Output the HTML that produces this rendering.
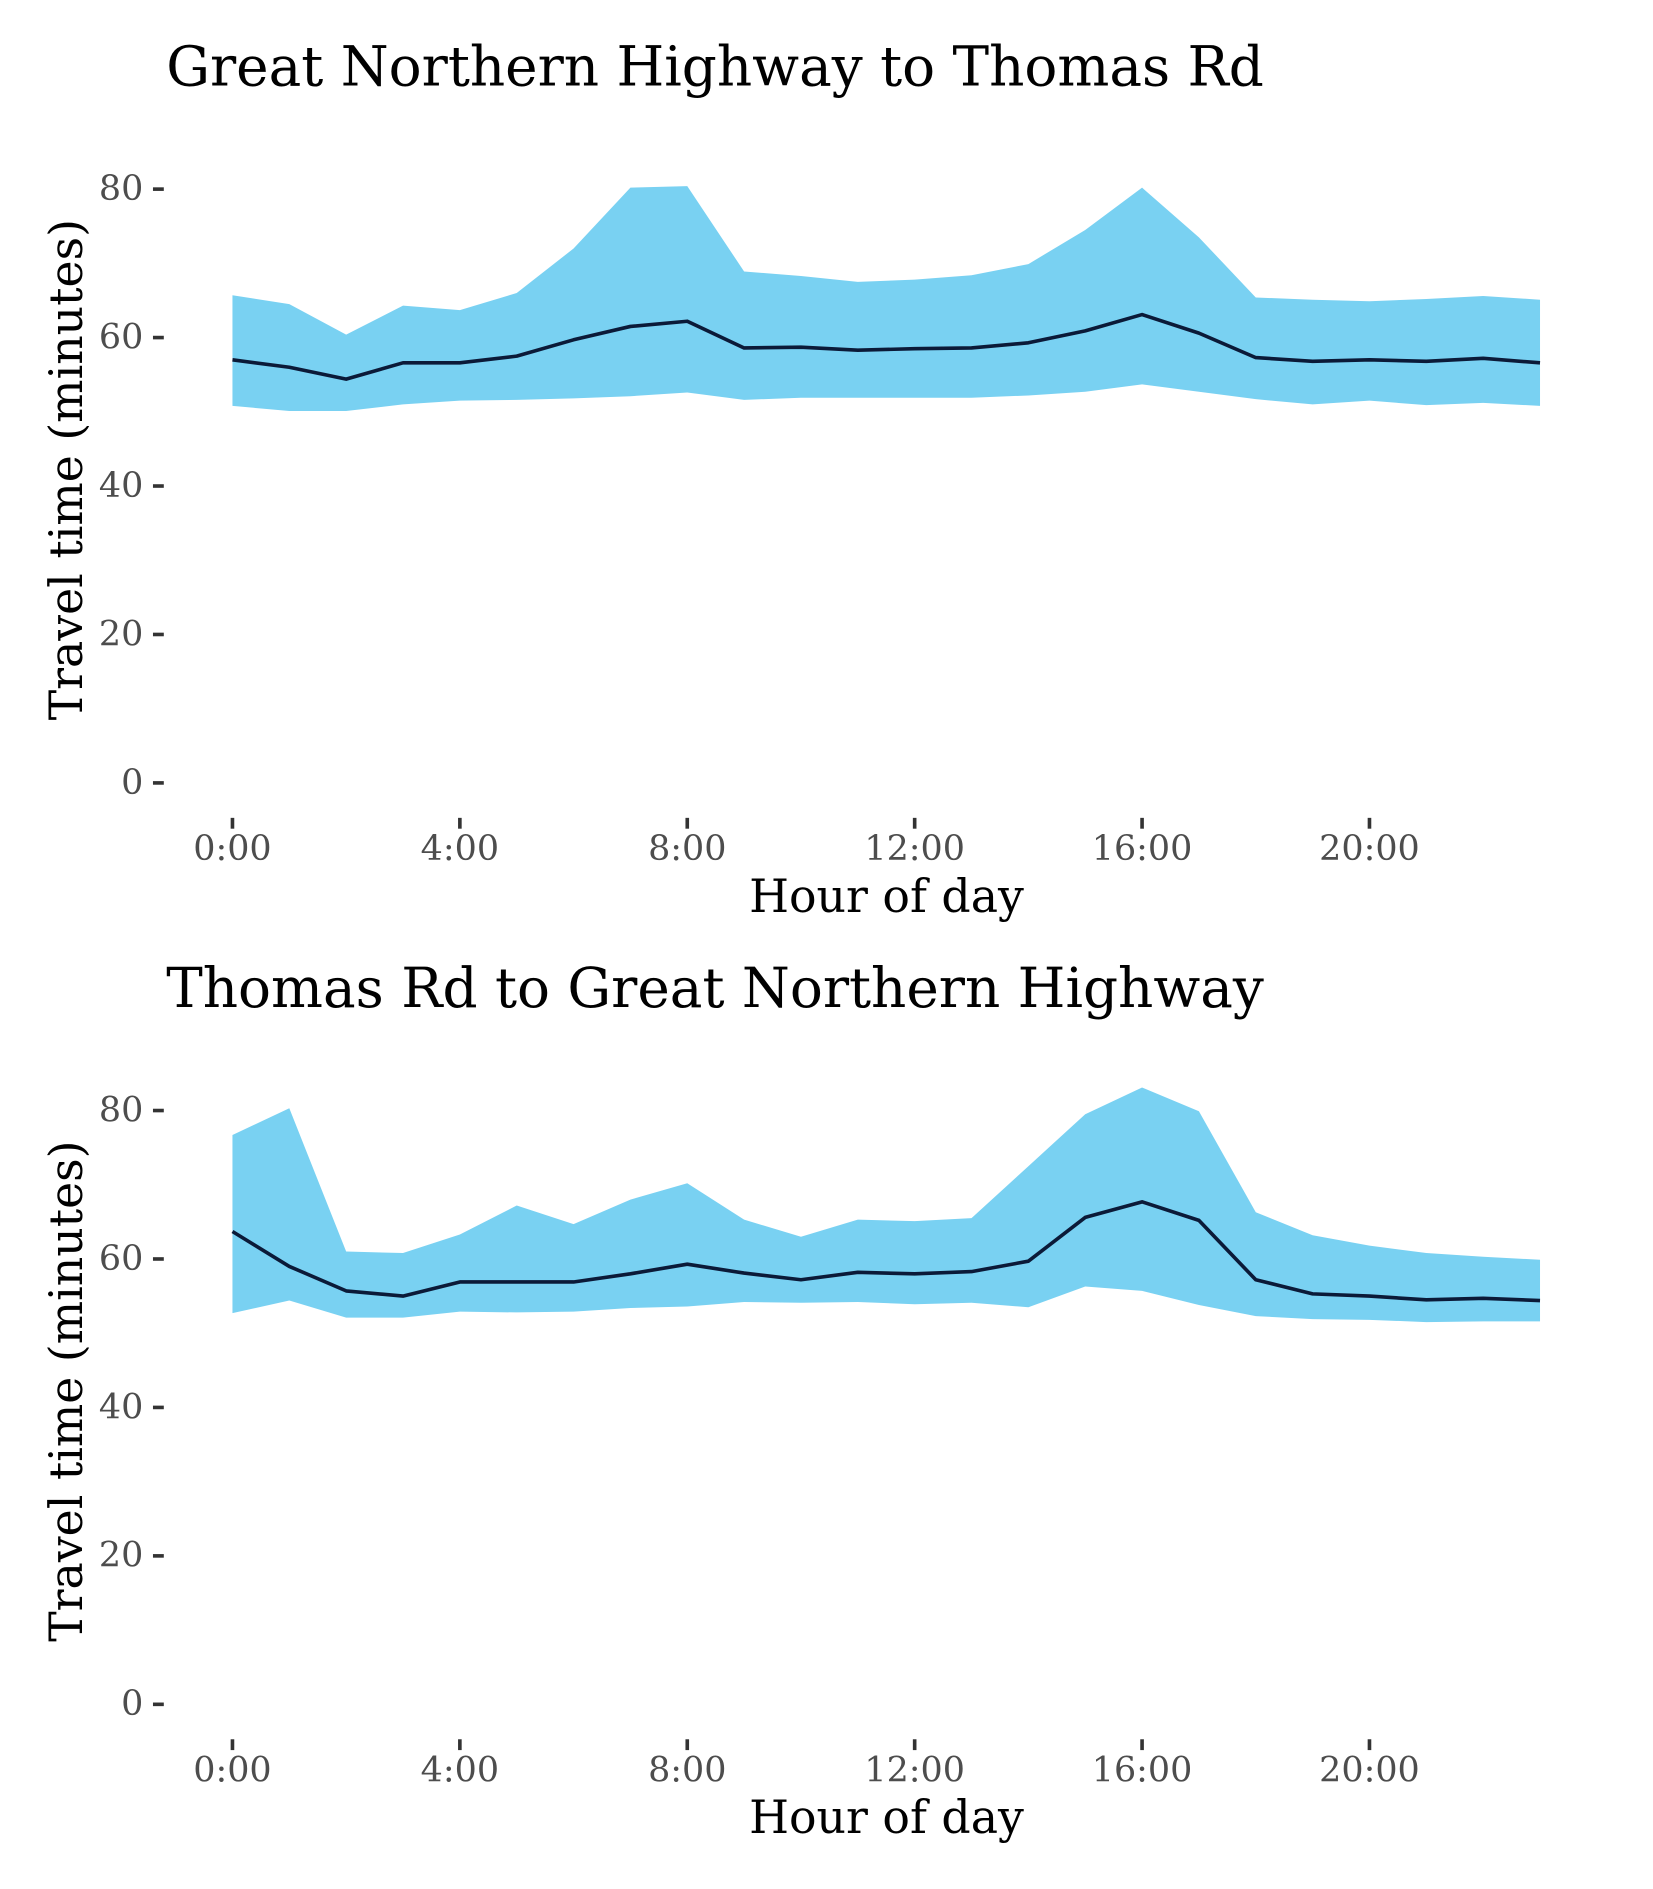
<!DOCTYPE html>
<html><head><meta charset="utf-8"><style>
html,body{margin:0;padding:0;background:#fff;}
svg{display:block;font-family:"DejaVu Serif","Liberation Serif",serif;}
</style></head><body>
<svg id="chart" width="1653" height="1889" viewBox="0 0 1372.4 1568.3" xmlns="http://www.w3.org/2000/svg"></svg>
<script>
const hours = [0,1,2,3,4,5,6,7,8,9,10,11,12,13,14,15,16,17,18,19,20,21,22,23];
const xTickHours = [0,4,8,12,16,20];
const xTickLabels = ["0:00","4:00","8:00","12:00","16:00","20:00"];
const yTicks = [0,20,40,60,80];
const titles = ["Great Northern Highway to Thomas Rd","Thomas Rd to Great Northern Highway"];
const upper1 = [65.7,64.5,60.4,64.3,63.7,66,72,80.2,80.4,68.9,68.3,67.5,67.8,68.4,69.9,74.5,80.2,73.5,65.4,65.1,64.9,65.2,65.6,65.1];
const mean1 = [57,56,54.4,56.6,56.6,57.5,59.7,61.5,62.2,58.6,58.7,58.3,58.5,58.6,59.3,60.9,63.1,60.6,57.3,56.8,57,56.8,57.2,56.6];
const lower1 = [50.8,50.1,50.1,51,51.5,51.6,51.8,52.1,52.6,51.6,51.9,51.9,51.9,51.9,52.2,52.7,53.7,52.7,51.7,51,51.5,50.9,51.2,50.8];
const upper2 = [76.7,80.3,61,60.8,63.3,67.2,64.7,68,70.2,65.3,63,65.3,65.1,65.5,72.5,79.5,83.1,79.9,66.3,63.2,61.8,60.8,60.3,59.9];
const mean2 = [63.7,59,55.7,55,56.9,56.9,56.9,58,59.3,58.1,57.2,58.2,58,58.3,59.7,65.6,67.7,65.2,57.2,55.3,55,54.5,54.7,54.4];
const lower2 = [52.7,54.4,52.1,52.1,52.9,52.8,52.9,53.4,53.6,54.2,54.1,54.2,53.9,54.1,53.5,56.3,55.7,53.8,52.3,51.9,51.8,51.5,51.6,51.6];

const NS="http://www.w3.org/2000/svg";
const svg=document.getElementById('chart');
function mk(tag,attrs,parent){const e=document.createElementNS(NS,tag);for(const k in attrs)e.setAttribute(k,attrs[k]);(parent||svg).appendChild(e);return e;}

function panel(idx, off, title, up, mn, lo){
  const g=mk('g',{});
  
  
  const x=h=>193+47.2*h;
  const y=v=>off+650-6.1625*v;
  const t=mk('text',{x:138,y:off+71,'font-size':45.5,fill:'#000'},g);t.textContent=title;
  
  
  let d='';
  hours.forEach((h,i)=>{d+=(i?'L':'M')+x(h)+','+y(up[i]);});
  for(let i=hours.length-1;i>=0;i--)d+='L'+x(hours[i])+','+y(lo[i]);
  const band=mk('path',{d:d+'Z',fill:'#79D1F2'},g);
  
  
  let ld='';
  hours.forEach((h,i)=>{ld+=(i?'L':'M')+x(h)+','+y(mn[i]);});
  const line=mk('path',{d:ld,fill:'none',stroke:'#0B1A38','stroke-width':3,'stroke-linejoin':'round'},g);
  
  
  yTicks.forEach(v=>{
    mk('line',{x1:127,x2:136,y1:y(v),y2:y(v),stroke:'#333','stroke-width':3},g);
    const tl=mk('text',{x:119,y:y(v)+9,'font-size':29,fill:'#4d4d4d','text-anchor':'end'},g);tl.textContent=v;
    
    
  });
  xTickHours.forEach((h,i)=>{
    mk('line',{x1:x(h),x2:x(h),y1:off+679,y2:off+688,stroke:'#333','stroke-width':3},g);
    const tl=mk('text',{x:x(h),y:off+714,'font-size':29,fill:'#4d4d4d','text-anchor':'middle'},g);tl.textContent=xTickLabels[i];
    
    
  });
  const xt=mk('text',{x:736,y:off+757,'font-size':38,fill:'#000','text-anchor':'middle'},g);xt.textContent='Hour of day';
  
  
  const yt=mk('text',{x:0,y:0,'font-size':38,fill:'#000','text-anchor':'middle',transform:'translate(68,'+(off+390)+') rotate(-90)'},g);yt.textContent='Travel time (minutes)';
  
  
}
panel(0,0,titles[0],upper1,mean1,lower1);
panel(1,765,titles[1],upper2,mean2,lower2);
</script>
</body></html>
